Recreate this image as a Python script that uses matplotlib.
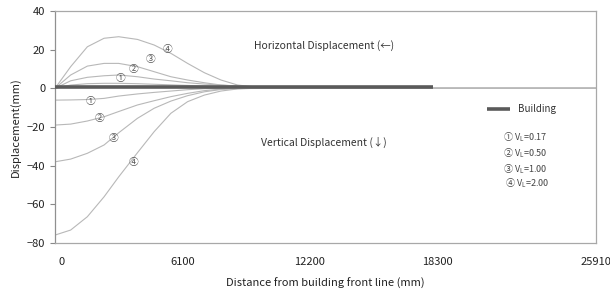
import matplotlib
matplotlib.use("Agg")
import matplotlib.pyplot as plt
from matplotlib.transforms import ScaledTranslation

plt.rcParams['font.family'] = ['Noto Sans CJK KR', 'DejaVu Sans']

# distance from building front line (mm)
x = [0, 750, 1550, 2350, 3050, 3950, 4750, 5550, 6350, 7150, 7950, 8750, 9500, 10500, 12200, 18300, 25910]

# horizontal displacement (positive)
h1 = [0, 1.7, 2.4, 2.6, 2.6, 2.4, 2.1, 1.8, 1.5, 1.2, 1.0, 0.7, 0.4, 0.1, 0, 0, 0]
h2 = [0, 3.9, 5.7, 6.5, 6.9, 6.0, 4.8, 3.9, 2.9, 2.2, 1.7, 1.1, 0.6, 0.2, 0, 0, 0]
h3 = [0, 6.9, 11.5, 12.9, 12.9, 11.2, 8.6, 6.0, 4.3, 2.9, 1.7, 1.2, 0.6, 0.2, 0, 0, 0]
h4 = [0, 11.2, 21.5, 25.9, 26.7, 25.3, 22.4, 18.1, 12.9, 8.1, 4.3, 1.7, 0.8, 0.3, 0, 0, 0]

# vertical displacement (negative)
v1 = [-6.1, -6.0, -5.8, -5.2, -4.0, -2.9, -2.1, -1.4, -0.7, -0.2, -0.05, 0, 0, 0, 0, 0, 0]
v2 = [-19.0, -18.5, -16.9, -14.7, -12.0, -8.6, -6.4, -4.3, -2.6, -1.2, -0.4, -0.1, 0, 0, 0, 0, 0]
v3 = [-38.0, -36.6, -33.6, -29.3, -23.0, -15.5, -10.3, -6.6, -3.8, -1.8, -0.6, -0.1, 0, 0, 0, 0, 0]
v4 = [-75.9, -73.3, -66.4, -56.1, -45.8, -33.3, -22.4, -12.9, -6.9, -3.5, -1.4, -0.3, 0, 0, 0, 0, 0]

building_x = [0, 18100]
building_y = [0.7, 0.7]

xticks = [0, 6100, 12200, 18300, 25910]
yticks = [-80, -60, -40, -20, 0, 20, 40]

# curve label positions (x, y, text)
curve_labels = [
    (5400, 20.6, '④'), (4600, 15.0, '③'), (3750, 10.0, '②'), (3150, 5.5, '①'),
    (1700, -6.5, '①'), (2150, -15.5, '②'), (2800, -25.9, '③'), (3750, -38.1, '④'),
]
legend_entries = ['① V$_\\mathregular{L}$=0.17', '② V$_\\mathregular{L}$=0.50',
                  '③ V$_\\mathregular{L}$=1.00', '④ V$_\\mathregular{L}$=2.00']

fig = plt.figure(figsize=(6.10, 2.91), dpi=100)
ax = fig.add_axes([55/610, (291-243)/291, 541/610, 232/291])

curve_color = '#b8b8b8'
for s in (h1, h2, h3, h4, v1, v2, v3, v4):
    ax.plot(x, s, color=curve_color, lw=0.8, zorder=2, solid_joinstyle='round')

bld, = ax.plot(building_x, building_y, color='#5a5a5a', lw=2.6, solid_capstyle='butt',
               zorder=3, label='Building')

for cx, cy, t in curve_labels:
    ax.text(cx, cy, t, fontsize=7, color='#555555', ha='center', va='center', zorder=4)

ax.text(12900, 22, 'Horizontal Displacement (←)', fontsize=7.5, color='#333333',
        ha='center', va='center')
ax.text(12900, -28.1, 'Vertical Displacement (↓)', fontsize=7.5, color='#333333',
        ha='center', va='center')

ax.set_xlim(0, 25910)
ax.set_ylim(-80, 40)
ax.set_xticks(xticks)
ax.set_xticklabels([str(t) for t in xticks])
ax.set_yticks(yticks)
ax.tick_params(axis='x', length=0, pad=10, labelsize=8, labelcolor='#222222')
ax.tick_params(axis='y', length=3.6, width=0.8, color='#888888', pad=3.5,
               labelsize=8, labelcolor='#222222')
lbl0 = ax.get_xticklabels()[0]
lbl0.set_transform(lbl0.get_transform() + ScaledTranslation(7/100, 0, fig.dpi_scale_trans))

for side in ('top', 'right', 'bottom'):
    ax.spines[side].set_color('#a8a8a8')
    ax.spines[side].set_linewidth(0.9)
ax.spines['left'].set_color('#909090')
ax.spines['left'].set_linewidth(0.9)

ax.set_xlabel('Distance from building front line (mm)', fontsize=8, color='#222222', labelpad=8)
ax.set_ylabel('Displacement(mm)', fontsize=8, color='#222222', labelpad=4)

leg = ax.legend(handles=[bld], loc='center left', bbox_to_anchor=(0.798, 0.578),
                frameon=False, fontsize=7, handlelength=2.4, handletextpad=0.8,
                borderpad=0, borderaxespad=0)
for t in leg.get_texts():
    t.set_color('#333333')

ly = [137.7, 153.3, 169.0, 183.3]
lx = [503, 503, 503, 505]
for txt, yy, xx in zip(legend_entries, ly, lx):
    fig.text(xx/610, 1 - yy/291, txt, fontsize=6.5, color='#444444', ha='left', va='center')

fig.savefig('out.png', dpi=100)
